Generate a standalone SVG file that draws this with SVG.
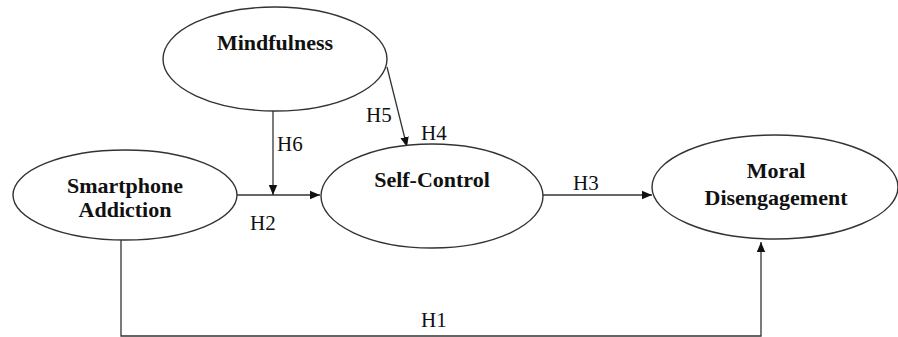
<svg xmlns="http://www.w3.org/2000/svg" width="898" height="337" viewBox="0 0 898 337">
<style>
.node{fill:#fff;stroke:#333;stroke-width:1.4}
.lbl{font-family:"Liberation Serif","Times New Roman",serif;font-weight:bold;font-size:22px;fill:#111;text-anchor:middle}
.h{font-family:"Liberation Serif","Times New Roman",serif;font-size:21px;fill:#111}
.edge{fill:none;stroke:#333;stroke-width:1.3}
</style>
<defs>
<marker id="arr" viewBox="0 0 10 10" refX="10" refY="5" markerWidth="10" markerHeight="10" markerUnits="userSpaceOnUse" orient="auto">
<path d="M0,0.8 L10,5 L0,9.2 Z" fill="#111"/>
</marker>
</defs>
<rect width="898" height="337" fill="#fff"/>
<g id="connectors">
<path class="edge" d="M237,195 L320,195" marker-end="url(#arr)"/>
<path class="edge" d="M273,111 L273,195" marker-end="url(#arr)"/>
<path class="edge" d="M387,67 L407,147" marker-end="url(#arr)"/>
<path class="edge" d="M543,195 L652,195" marker-end="url(#arr)"/>
<path class="edge" d="M121,240 L121,336 L761,336 L761,242" marker-end="url(#arr)"/>
<text class="h" x="277" y="151">H6</text>
<text class="h" x="250" y="230">H2</text>
<text class="h" x="366" y="122">H5</text>
<text class="h" x="421" y="140">H4</text>
<text class="h" x="573" y="190">H3</text>
<text class="h" x="421" y="327">H1</text>
</g>
<g id="mindfulness">
<ellipse class="node" cx="275" cy="59" rx="112" ry="52"/>
<text class="lbl" x="275" y="50">Mindfulness</text>
</g>
<g id="smartphone-addiction">
<ellipse class="node" cx="125" cy="195" rx="112" ry="45"/>
<text class="lbl" x="125" y="193">Smartphone</text>
<text class="lbl" x="125" y="217">Addiction</text>
</g>
<g id="self-control">
<ellipse class="node" cx="432" cy="196" rx="111" ry="52"/>
<text class="lbl" x="432" y="187">Self-Control</text>
</g>
<g id="moral-disengagement">
<ellipse class="node" cx="775" cy="187" rx="123" ry="52"/>
<text class="lbl" x="776" y="178">Moral</text>
<text class="lbl" x="776" y="205">Disengagement</text>
</g>
</svg>
